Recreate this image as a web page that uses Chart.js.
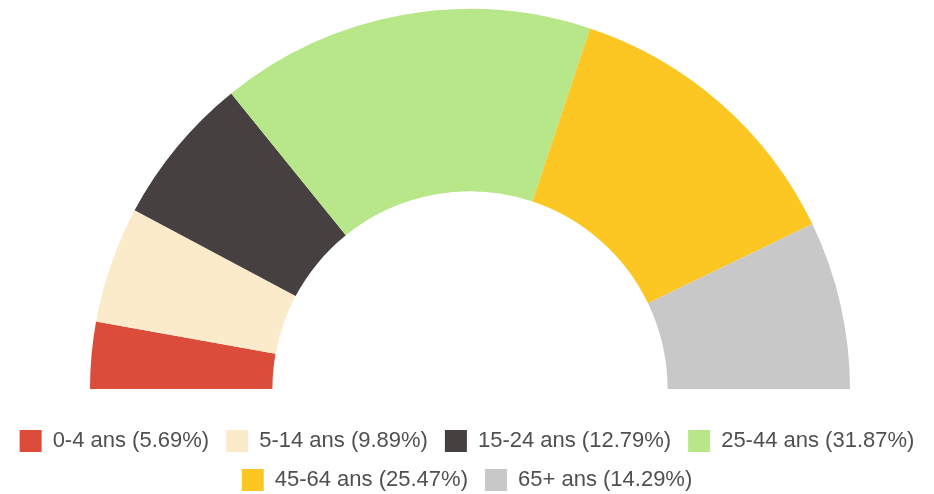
<!DOCTYPE html>
<html>
<head>
<meta charset="utf-8">
<script src="https://cdn.jsdelivr.net/npm/chart.js@4"></script>
<style>
  html, body { margin: 0; padding: 0; background: #fff; }
  #wrap { width: 934px; height: 494px; }
</style>
</head>
<body>
<div id="wrap"><canvas id="ages"></canvas></div>
<script>
//------------- DATA -----------------

const ageGroups = ['0-4 ans', '5-14 ans', '15-24 ans', '25-44 ans', '45-64 ans', '65+ ans'];
const shares = [5.69, 9.89, 12.79, 31.87, 25.47, 14.29];
const sliceColors = ['#db4d3a', '#fbebcb', '#464040', '#b7e789', '#fcc723', '#c8c8c8'];

const legendLabels = ageGroups.map((g, i) => `${g} (${shares[i].toFixed(2)}%)`);

// legend box sits right under the half ring, rows start lower (title spacer)
const legendHeight = {
  id: 'legendHeight',
  beforeInit(chart) {
    if (!chart.legend) return;
    const fit = chart.legend.fit;
    chart.legend.fit = function () {
      fit.bind(chart.legend)();
      this.height = 105;
    };
  }
};

// ring is a few px right of the legend centre in the original
const nudgeRing = {
  id: 'nudgeRing',
  beforeDatasetsDraw(chart) {
    chart.ctx.save();
    chart.ctx.translate(3, 0);
  },
  afterDatasetsDraw(chart) {
    chart.ctx.restore();
  }
};

//------------- CHART -----------------

const ctx = document.getElementById('ages');
const chart = new Chart(ctx, {
  type: 'doughnut',
  data: {
    labels: legendLabels,
    datasets: [{
      data: shares,
      backgroundColor: sliceColors,
      borderWidth: 0
    }]
  },
  options: {
    responsive: true,
    maintainAspectRatio: false,
    animation: false,
    rotation: -90,
    circumference: 180,
    cutout: '52%',
    layout: { padding: { top: 9, bottom: 0 } },
    plugins: {
      tooltip: { enabled: false },
      legend: {
        position: 'bottom',
        title: {
          display: true,
          text: '',
          font: { size: 20, lineHeight: 1 },
          padding: { top: 4, bottom: 0 }
        },
        labels: {
          boxWidth: 22,
          boxHeight: 22,
          padding: 17,
          color: '#505050',
          font: { family: '"Liberation Sans", Arial, Helvetica, sans-serif', size: 22 }
        }
      }
    }
  },
  plugins: [legendHeight, nudgeRing]
});
</script>
</body>
</html>
